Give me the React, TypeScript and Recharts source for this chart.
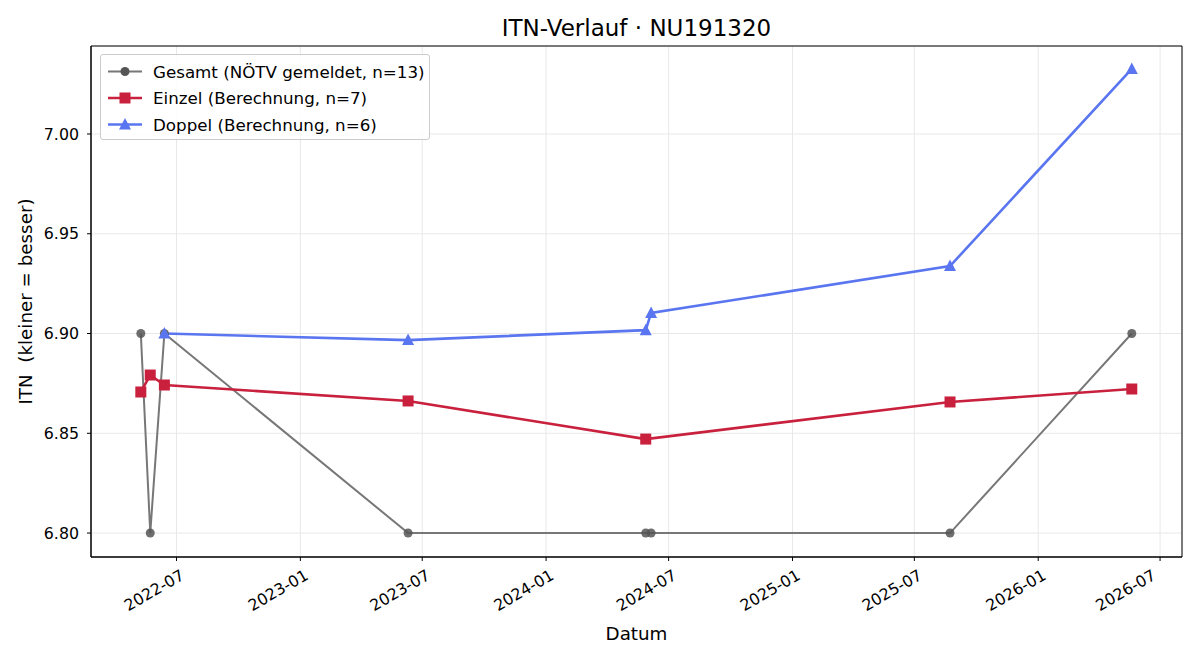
import React from 'react';
import { LineChart, Line, XAxis, YAxis, CartesianGrid, ReferenceArea } from 'recharts';

const gesamtDates = ['2022-05-09', '2022-05-23', '2022-06-13', '2023-06-10', '2024-05-28', '2024-06-05', '2025-08-23', '2026-05-20'];
const gesamtValues = [6.9, 6.8, 6.9, 6.8, 6.8, 6.8, 6.8, 6.9];
const einzelDates = ['2022-05-09', '2022-05-23', '2022-06-13', '2023-06-10', '2024-05-28', '2025-08-23', '2026-05-20'];
const einzelValues = [6.8707, 6.8792, 6.8742, 6.8662, 6.8471, 6.8657, 6.8722];
const doppelDates = ['2022-06-13', '2023-06-10', '2024-05-28', '2024-06-05', '2025-08-23', '2026-05-20'];
const doppelValues = [6.9, 6.8967, 6.9017, 6.9103, 6.9338, 7.0326];
const xTickLabels = ['2022-07', '2023-01', '2023-07', '2024-01', '2024-07', '2025-01', '2025-07', '2026-01', '2026-07'];
const yTicks = [6.8, 6.85, 6.9, 6.95, 7.0];

const toMs = (d: string) => new Date(d + 'T00:00:00Z').getTime();
const build = (dates: string[], vals: number[]) => dates.map((d, i) => ({ t: toMs(d), v: vals[i] }));
const gesamtData = build(gesamtDates, gesamtValues);
const einzelData = build(einzelDates, einzelValues);
const doppelData = build(doppelDates, doppelValues);
const xTicks = xTickLabels.map((l) => toMs(l + '-01'));
const xDomain = [toMs('2022-02-24'), toMs('2026-08-02') + 14 * 3600 * 1000];
const yDomain = [6.788, 7.0441];

const FONT = 'DejaVu Sans, sans-serif';
const GRAY = '#777777';
const GRAY_DOT = '#555555';
const RED = '#c8203d';
const BLUE = '#5a75f0';

const fmt = (ms: number) => {
  const d = new Date(ms);
  return `${d.getUTCFullYear()}-${String(d.getUTCMonth() + 1).padStart(2, '0')}`;
};

const XTick = (props: any) => {
  const { x, y, payload } = props;
  const ax = x + 3;
  const ay = y + 5;
  return (
    <text
      x={ax}
      y={ay}
      transform={`rotate(-30, ${ax}, ${ay})`}
      textAnchor="end"
      dominantBaseline="hanging"
      fontSize={15.8}
      fontFamily={FONT}
      fill="#000"
    >
      {fmt(payload.value)}
    </text>
  );
};

const circleDot = (p: any) => (
  <circle key={`g${p.index}`} cx={p.cx} cy={p.cy} r={4.5} fill={GRAY_DOT} fillOpacity={0.85} />
);
const squareDot = (p: any) => (
  <rect key={`e${p.index}`} x={p.cx - 5.5} y={p.cy - 5.5} width={11} height={11} fill={RED} />
);
const triDot = (p: any) => (
  <polygon
    key={`d${p.index}`}
    points={`${p.cx},${p.cy - 6.5} ${p.cx - 6},${p.cy + 5} ${p.cx + 6},${p.cy + 5}`}
    fill={BLUE}
  />
);

const legendItems = [
  { label: 'Gesamt (NÖTV gemeldet, n=13)', color: GRAY, marker: 'circle', w: 2 },
  { label: 'Einzel (Berechnung, n=7)', color: RED, marker: 'square', w: 2.6 },
  { label: 'Doppel (Berechnung, n=6)', color: BLUE, marker: 'tri', w: 2.6 },
];

const LegendBox = () => (
  <div
    style={{
      position: 'absolute',
      left: 100,
      top: 54,
      width: 330,
      height: 86,
      border: '1px solid #cccccc',
      borderRadius: 3,
      background: 'rgba(255,255,255,0.85)',
      boxSizing: 'border-box',
    }}
  >
    <svg width={328} height={84} style={{ display: 'block' }}>
      {legendItems.map((it, i) => {
        const cy = 16.5 + i * 26.5;
        return (
          <g key={i}>
            <line x1={7} x2={41} y1={cy} y2={cy} stroke={it.color} strokeWidth={it.w} />
            {it.marker === 'circle' && <circle cx={24} cy={cy} r={4.5} fill={GRAY_DOT} />}
            {it.marker === 'square' && <rect x={18.5} y={cy - 5.5} width={11} height={11} fill={it.color} />}
            {it.marker === 'tri' && (
              <polygon points={`24,${cy - 6.5} 18,${cy + 5} 30,${cy + 5}`} fill={it.color} />
            )}
            <text x={52} y={cy} dominantBaseline="central" fontSize={16.7} fontFamily={FONT} fill="#000">
              {it.label}
            </text>
          </g>
        );
      })}
    </svg>
  </div>
);

export default function App() {
  return (
    <div style={{ position: 'absolute', left: 0, top: 0, width: 1200, height: 660, background: '#fff' }}>
      <svg width={1200} height={660} style={{ position: 'absolute', left: 0, top: 0 }}>
        <text x={636.5} y={28} textAnchor="middle" dominantBaseline="central" fontSize={23} fontFamily={FONT}>
          ITN-Verlauf · NU191320
        </text>
        <text x={636.5} y={633} textAnchor="middle" dominantBaseline="central" fontSize={18.3} fontFamily={FONT}>
          Datum
        </text>
        <text
          x={25}
          y={301.5}
          textAnchor="middle"
          dominantBaseline="central"
          fontSize={18.3}
          fontFamily={FONT}
          transform="rotate(-90, 25, 301.5)"
          style={{ whiteSpace: 'pre' }}
        >
          {'ITN  (kleiner = besser)'}
        </text>
      </svg>
      <div style={{ position: 'absolute', left: 0, top: 0 }}>
        <LineChart width={1200} height={660} margin={{ top: 46, right: 18, bottom: 0, left: 0 }}>
          <CartesianGrid stroke="#e8e8e8" strokeWidth={1} />
          <XAxis
            dataKey="t"
            type="number"
            scale="time"
            domain={xDomain}
            ticks={xTicks}
            tick={<XTick />}
            tickSize={4}
            height={103}
            stroke="#000"
            allowDataOverflow
          />
          <YAxis
            dataKey="v"
            type="number"
            domain={yDomain}
            ticks={yTicks}
            tickFormatter={(v: number) => v.toFixed(2)}
            tick={{ fontSize: 15.8, fontFamily: FONT, fill: '#000' }}
            tickSize={4}
            tickMargin={8}
            width={91}
            stroke="#000"
            allowDataOverflow
          />
          <ReferenceArea
            x1={xDomain[0]}
            x2={xDomain[1]}
            y1={yDomain[0]}
            y2={yDomain[1]}
            fill="none"
            stroke="#000"
            strokeWidth={1}
            ifOverflow="visible"
          />
          <Line data={gesamtData} dataKey="v" stroke={GRAY} strokeWidth={2} dot={circleDot} isAnimationActive={false} />
          <Line data={einzelData} dataKey="v" stroke={RED} strokeWidth={2.6} dot={squareDot} isAnimationActive={false} />
          <Line data={doppelData} dataKey="v" stroke={BLUE} strokeWidth={2.6} dot={triDot} isAnimationActive={false} />
        </LineChart>
      </div>
      <LegendBox />
    </div>
  );
}
